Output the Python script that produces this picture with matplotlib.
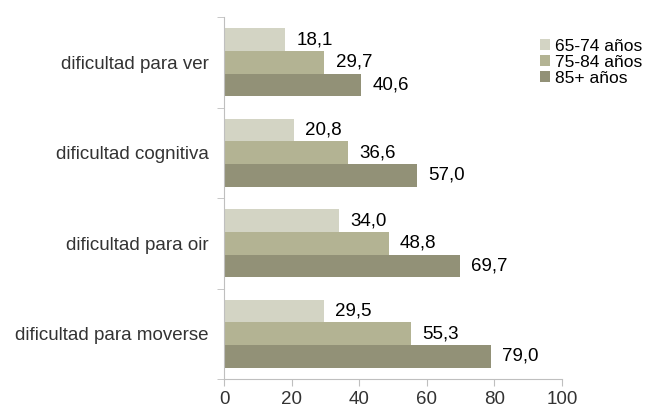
import matplotlib
matplotlib.use("Agg")
import matplotlib.pyplot as plt
import numpy as np
from matplotlib.patches import Patch

categories = ["dificultad para ver", "dificultad cognitiva", "dificultad para oir", "dificultad para moverse"]
series_names = ["65-74 años", "75-84 años", "85+ años"]
v_65_74 = [18.1, 20.8, 34.0, 29.5]
v_75_84 = [29.7, 36.6, 48.8, 55.3]
v_85 = [40.6, 57.0, 69.7, 79.0]
xticks = [0, 20, 40, 60, 80, 100]
colors = ["#d3d4c4", "#b3b393", "#929177"]

plt.rcParams['font.family'] = ['Liberation Sans', 'DejaVu Sans']
fig = plt.figure(figsize=(6.45, 4.07), dpi=100)
ax = fig.add_axes([224/645, 1-379/407, (562-224)/645, (379-17)/407])

y = np.arange(len(categories))
h = 0.25
allv = [v_65_74, v_75_84, v_85]
for i, vals in enumerate(allv):
    pos = y - h + i*h
    ax.barh(pos, vals, height=h, color=colors[i], label=series_names[i])
    for p, v in zip(pos, vals):
        ax.text(v + 3.3, p, f"{v:.1f}".replace('.', ','), va='center', ha='left', fontsize=13.5, color='black')

ax.set_ylim(len(categories)-0.5, -0.5)
ax.set_xlim(0, 100)
ax.set_xticks(xticks)
ax.set_xticklabels([str(t) for t in xticks], fontsize=13.5)
ax.set_yticks(y)
ax.set_yticklabels(categories, fontsize=13.5, color='#333333')
ax.tick_params(axis='y', length=0, pad=11)
ax.set_yticks(np.arange(-0.5, len(categories), 1), minor=True)
ax.tick_params(axis='y', which='minor', length=5, color='#bfbfbf')
ax.tick_params(axis='x', length=5, color='#bfbfbf', pad=4, labelcolor='#333333')
for s in ['top', 'right']:
    ax.spines[s].set_visible(False)
for s in ['left', 'bottom']:
    ax.spines[s].set_color('#bfbfbf')

handles = [Patch(facecolor=c, edgecolor='none') for c in colors]
fig.legend(handles, series_names, loc='upper left', bbox_to_anchor=(540/645, 1-39/407),
           frameon=False, fontsize=12.5, handlelength=0.6, handleheight=0.6,
           handletextpad=0.25, labelspacing=0.05, borderpad=0, borderaxespad=0)

fig.savefig("out.png", dpi=100)
